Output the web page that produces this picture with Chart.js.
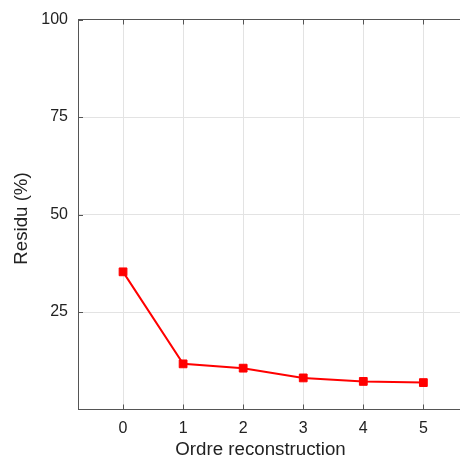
<!DOCTYPE html>
<html>
<head>
<meta charset="utf-8">
<script src="https://cdn.jsdelivr.net/npm/chart.js@4/dist/chart.umd.min.js"></script>
<style>
  body { margin: 0; background: #fff; }
  #wrap { width: 460px; height: 464px; }
</style>
</head>
<body>
<div id="wrap"><canvas id="chart" width="460" height="464"></canvas></div>
<script>
// Data
const ordre = [0, 1, 2, 3, 4, 5];
const residu = [35.3, 11.7, 10.6, 8.1, 7.2, 6.9];
const xTicks = [0, 1, 2, 3, 4, 5];
const yTicks = [25, 50, 75, 100];
const xTitle = 'Ordre reconstruction';
const yTitle = 'Residu (%)';

const FONT = "'Liberation Sans', Arial, Helvetica, sans-serif";
const axisColor = '#555555';
const gridColor = '#e3e3e3';
const textColor = '#222222';

// no automatic label padding, the box sizes are fixed below
function noPad(s) {
  s.paddingLeft = 0;
  s.paddingRight = 0;
  s.paddingTop = 0;
  s.paddingBottom = 0;
}

// small inward tick marks and the axis titles, like the original plot
const plotDecor = {
  id: 'plotDecor',
  afterDraw(chart) {
    const ctx = chart.ctx;
    const area = chart.chartArea;
    const x = chart.scales.x, y = chart.scales.y;
    const len = 5;
    ctx.save();
    ctx.strokeStyle = axisColor;
    ctx.lineWidth = 1;
    ctx.beginPath();
    xTicks.forEach(v => {
      const px = Math.round(x.getPixelForValue(v)) + 0.5;
      ctx.moveTo(px, area.bottom);
      ctx.lineTo(px, area.bottom - len);
      ctx.moveTo(px, area.top);
      ctx.lineTo(px, area.top + len);
    });
    yTicks.forEach(v => {
      const py = Math.round(y.getPixelForValue(v)) + 0.5;
      ctx.moveTo(area.left, py);
      ctx.lineTo(area.left + len, py);
    });
    ctx.stroke();

    ctx.fillStyle = textColor;
    ctx.font = '18.7px ' + FONT;
    ctx.textAlign = 'center';
    ctx.textBaseline = 'middle';
    ctx.fillText(xTitle, 260.5, 450);
    ctx.translate(22, 218.5);
    ctx.rotate(-Math.PI / 2);
    ctx.fillText(yTitle, 0, 0);
    ctx.restore();
  }
};

new Chart(document.getElementById('chart').getContext('2d'), {
  type: 'line',
  data: {
    datasets: [{
      data: ordre.map((o, i) => ({ x: o, y: residu[i] })),
      borderColor: '#ff0000',
      backgroundColor: '#ff0000',
      borderWidth: 2,
      pointStyle: 'rect',
      pointRadius: 5.5,
      pointBorderWidth: 1,
      tension: 0
    }]
  },
  options: {
    responsive: false,
    animation: false,
    layout: { padding: 0, autoPadding: false },
    plugins: {
      legend: { display: false },
      tooltip: { enabled: false }
    },
    scales: {
      x: {
        type: 'linear',
        position: 'bottom',
        min: -0.75,
        max: 5.61,
        afterBuildTicks: s => { s.ticks = xTicks.map(v => ({ value: v })); },
        afterFit: s => { s.height = 54.5; noPad(s); },
        grid: { color: gridColor, drawTicks: false },
        border: { color: axisColor, width: 1 },
        ticks: { padding: 9, color: textColor, font: { family: FONT, size: 16 } }
      },
      xTop: {
        type: 'linear',
        position: 'top',
        min: -0.75,
        max: 5.61,
        afterFit: s => { s.height = 19.5; noPad(s); },
        grid: { display: false, drawTicks: false },
        border: { color: axisColor, width: 1 },
        ticks: { display: false }
      },
      y: {
        min: 0,
        max: 100,
        afterBuildTicks: s => { s.ticks = yTicks.map(v => ({ value: v })); },
        afterFit: s => { s.width = 78; noPad(s); },
        grid: { color: gridColor, drawTicks: false },
        border: { color: axisColor, width: 1 },
        ticks: { padding: 10, color: textColor, font: { family: FONT, size: 16 } }
      }
    }
  },
  plugins: [plotDecor]
});
</script>
</body>
</html>
